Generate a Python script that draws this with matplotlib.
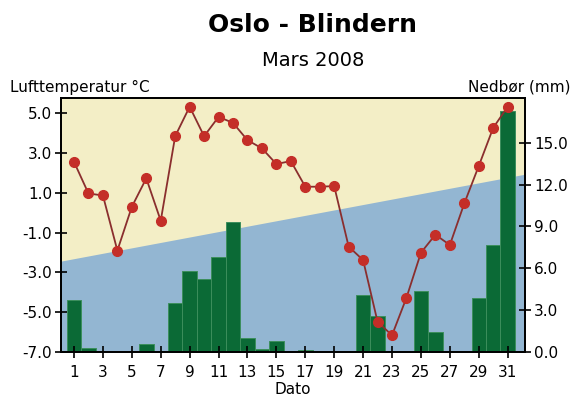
import matplotlib.pyplot as plt
import numpy as np

days = np.arange(1, 32)
temp = [2.56, 0.97, 0.87, -1.9, 0.30, 1.73, -0.40, 3.85, 5.33, 3.85,
        4.82, 4.52, 3.65, 3.24, 2.45, 2.6, 1.31, 1.31, 1.34, -1.7,
        -2.38, -5.48, -6.16, -4.27, -2.01, -1.10, -1.62, 0.47, 2.35, 4.27,
        5.33]
precip = [3.7, 0.3, 0.0, 0.0, 0.0, 0.6, 0.0, 3.5, 5.8, 5.2,
          6.8, 9.3, 1.0, 0.2, 0.8, 0.0, 0.15, 0.0, 0.0, 0.0,
          4.1, 2.6, 0.0, 0.0, 4.4, 1.4, 0.1, 0.0, 3.9, 7.7,
          17.3]
# normal temperature line across the month (edges of the plot)
normal_x = [0.1, 32.2]
normal_t = [-2.43, 1.94]

temp_ticks = [5.0, 3.0, 1.0, -1.0, -3.0, -5.0, -7.0]
precip_ticks = [0.0, 3.0, 6.0, 9.0, 12.0, 15.0]
day_ticks = list(range(1, 32, 2))

yellow = "#F3EEC6"
blue = "#93B6D2"
green = "#0B6A36"

fig = plt.figure(figsize=(5.78, 4.03), dpi=100)
ax1 = fig.add_axes([61 / 578, 1 - 352 / 403, 464 / 578, 254 / 403])
ax2 = ax1.twinx()
ax1.set_zorder(2)
ax2.set_zorder(1)
ax1.patch.set_visible(False)
ax2.patch.set_visible(True)
ax2.set_facecolor(yellow)

ax1.set_xlim(0.1, 32.2)
ax1.set_ylim(-7, 5.77)
ax2.set_ylim(0, 18.2)

ax2.fill_between(normal_x, [-7, -7], normal_t, color=blue, lw=0,
                 transform=ax1.transData)
ax2.bar(days, precip, width=1.0, color=green, edgecolor="#3C8E5C", linewidth=0.7)

ax1.plot(days, temp, color="#8A2E2E", lw=1.3, marker="o", markersize=7,
         markerfacecolor="#C42E28", markeredgecolor="#C42E28")

ax1.set_yticks(temp_ticks)
ax1.set_yticklabels(["%.1f" % t for t in temp_ticks])
ax2.set_yticks(precip_ticks)
ax2.set_yticklabels(["%.1f" % p for p in precip_ticks])
ax1.set_xticks(day_ticks)
ax1.set_xticklabels([str(d) for d in day_ticks])

fs = 11
for ax in (ax1, ax2):
    ax.tick_params(direction="inout", length=9, width=1.2, labelsize=fs, pad=2)
    for s in ax.spines.values():
        s.set_linewidth(1.3)
ax1.tick_params(axis="x", pad=5)

ax1.set_xlabel("Dato", fontsize=fs, labelpad=1)
fig.text(10 / 578, 1 - 87 / 403, "Lufttemperatur °C", fontsize=11, ha="left", va="center")
fig.text(570 / 578, 1 - 87 / 403, "Nedbør (mm)", fontsize=11, ha="right", va="center")
fig.text(313 / 578, 1 - 25 / 403, "Oslo - Blindern", fontsize=18, fontweight="bold",
         ha="center", va="center")
fig.text(313 / 578, 1 - 60 / 403, "Mars 2008", fontsize=14, ha="center", va="center")

plt.savefig("out.png", dpi=100)
